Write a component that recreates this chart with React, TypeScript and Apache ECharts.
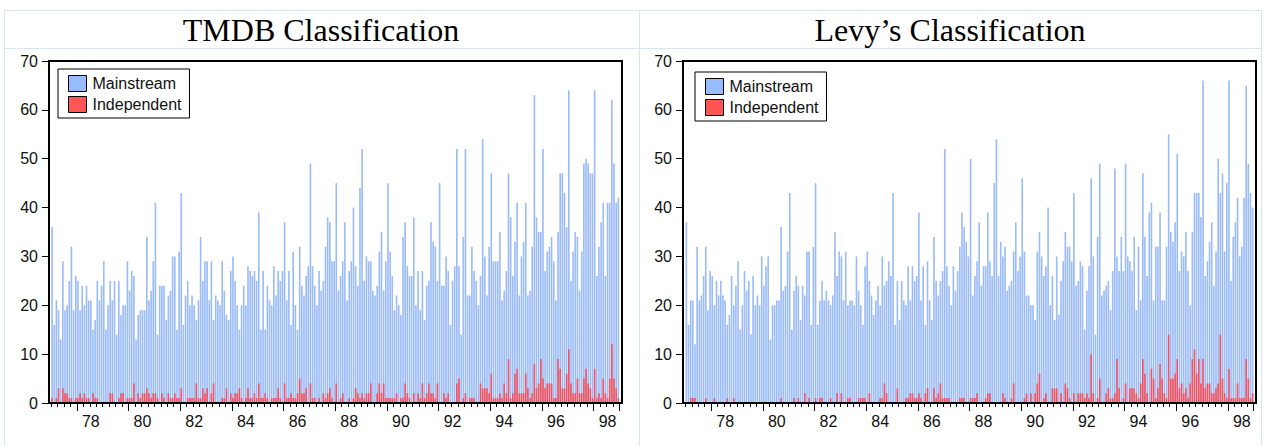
import React, { useEffect, useRef } from "react";
import * as echarts from "echarts";

// ---- categories: monthly, Jan 1977 .. Dec 1998 ----
const START_YEAR = 1977;
const END_YEAR = 1998;
const months: string[] = [];
for (let y = START_YEAR; y <= END_YEAR; y++) {
  for (let m = 1; m <= 12; m++) months.push(`${y}-${String(m).padStart(2, "0")}`);
}

// ---- TMDB classification ----
const tmdbMainstream = [
  36, 16, 21, 19, 13, 29, 19, 20, 25, 32, 19, 26,
  25, 19, 24, 20, 24, 21, 21, 15, 17, 25, 21, 24,
  29, 15, 20, 25, 21, 25, 14, 25, 18, 20, 20, 29,
  23, 27, 26, 13, 18, 19, 19, 19, 34, 21, 23, 29,
  41, 14, 24, 24, 24, 17, 22, 23, 30, 30, 15, 31,
  43, 16, 22, 25, 20, 22, 20, 17, 21, 34, 25, 29,
  29, 21, 29, 17, 22, 21, 20, 29, 23, 18, 17, 27,
  30, 25, 20, 15, 20, 24, 20, 28, 27, 26, 27, 25,
  39, 15, 27, 15, 24, 21, 20, 28, 22, 27, 25, 27,
  37, 21, 27, 16, 31, 20, 15, 32, 24, 22, 26, 28,
  49, 28, 24, 20, 27, 23, 25, 32, 38, 37, 29, 29,
  45, 23, 26, 29, 37, 21, 27, 29, 40, 28, 24, 44,
  52, 25, 30, 29, 29, 23, 22, 24, 31, 35, 23, 29,
  45, 31, 26, 19, 22, 20, 18, 34, 37, 28, 26, 26,
  38, 20, 27, 19, 27, 17, 24, 25, 37, 33, 32, 25,
  45, 24, 24, 30, 27, 16, 25, 28, 52, 28, 14, 34,
  52, 22, 22, 32, 27, 25, 20, 26, 54, 30, 22, 32,
  47, 29, 29, 29, 35, 21, 23, 27, 47, 38, 26, 33,
  41, 22, 30, 33, 41, 22, 23, 32, 63, 38, 35, 35,
  52, 27, 31, 32, 34, 29, 21, 35, 47, 47, 43, 36,
  64, 25, 31, 35, 34, 23, 31, 49, 50, 49, 47, 47,
  64, 26, 32, 37, 41, 26, 41, 41, 62, 49, 41, 42,
];
const tmdbIndependent = [
  1, 0, 1, 3, 0, 3, 2, 2, 1, 1, 0, 1,
  1, 2, 1, 2, 1, 1, 0, 2, 1, 1, 0, 0,
  0, 0, 0, 2, 2, 0, 0, 1, 2, 2, 0, 1,
  1, 1, 4, 0, 2, 1, 2, 2, 3, 2, 1, 2,
  2, 1, 0, 2, 1, 0, 2, 1, 1, 2, 1, 1,
  3, 0, 0, 1, 1, 1, 1, 4, 1, 1, 3, 2,
  3, 0, 2, 4, 0, 0, 0, 1, 1, 3, 0, 2,
  1, 2, 2, 3, 1, 0, 1, 3, 1, 1, 2, 1,
  4, 1, 1, 2, 1, 0, 1, 1, 1, 3, 1, 0,
  4, 1, 1, 2, 1, 1, 2, 5, 2, 2, 3, 0,
  4, 1, 1, 0, 1, 0, 2, 1, 2, 3, 1, 0,
  4, 0, 1, 2, 0, 0, 1, 0, 1, 3, 2, 1,
  2, 1, 2, 2, 4, 0, 0, 2, 4, 2, 4, 1,
  1, 1, 1, 1, 2, 0, 1, 1, 4, 2, 1, 0,
  2, 0, 2, 1, 4, 1, 2, 4, 2, 2, 1, 4,
  0, 0, 2, 1, 2, 0, 0, 0, 4, 5, 0, 1,
  2, 0, 1, 1, 1, 0, 0, 4, 3, 3, 3, 2,
  6, 1, 1, 1, 2, 1, 4, 2, 9, 1, 2, 6,
  7, 2, 2, 2, 6, 3, 1, 2, 8, 3, 4, 9,
  5, 3, 4, 4, 4, 1, 1, 9, 7, 3, 3, 6,
  11, 4, 2, 2, 5, 2, 2, 5, 7, 4, 3, 1,
  7, 1, 2, 1, 5, 2, 1, 5, 12, 5, 3, 1,
];

// ---- Levy's classification ----
const levyMainstream = [
  37, 16, 21, 21, 12, 32, 21, 22, 26, 32, 19, 27,
  26, 20, 25, 22, 25, 22, 21, 16, 18, 26, 20, 24,
  29, 15, 20, 27, 23, 25, 14, 26, 20, 22, 20, 30,
  24, 28, 30, 13, 20, 20, 21, 21, 36, 23, 24, 31,
  43, 15, 23, 26, 24, 17, 24, 22, 31, 31, 16, 32,
  45, 16, 21, 25, 21, 23, 21, 20, 22, 35, 26, 31,
  30, 21, 31, 20, 21, 21, 20, 30, 23, 20, 16, 28,
  31, 25, 22, 18, 21, 24, 20, 30, 24, 25, 29, 26,
  43, 16, 25, 17, 25, 21, 20, 28, 21, 28, 25, 26,
  39, 21, 28, 16, 29, 21, 17, 34, 25, 22, 25, 27,
  52, 28, 24, 20, 28, 23, 27, 32, 39, 36, 33, 30,
  50, 22, 26, 29, 37, 24, 28, 28, 39, 29, 26, 45,
  54, 26, 33, 30, 32, 23, 24, 25, 31, 37, 27, 30,
  46, 31, 22, 22, 20, 20, 17, 31, 35, 30, 26, 28,
  40, 20, 26, 17, 30, 18, 25, 29, 35, 32, 32, 29,
  43, 24, 25, 29, 28, 15, 23, 28, 46, 30, 14, 34,
  49, 22, 23, 24, 25, 19, 27, 48, 30, 27, 34, 27,
  49, 30, 29, 27, 34, 19, 32, 21, 47, 34, 26, 39,
  41, 21, 32, 32, 39, 21, 21, 32, 55, 35, 33, 37,
  51, 27, 31, 30, 35, 27, 20, 35, 43, 43, 43, 38,
  66, 26, 29, 33, 37, 24, 31, 50, 43, 47, 31, 45,
  66, 25, 34, 37, 42, 30, 32, 42, 65, 49, 43, 40,
];
const levyIndependent = [
  0, 0, 1, 1, 1, 0, 0, 0, 0, 1, 0, 0,
  0, 1, 0, 0, 0, 0, 0, 1, 0, 0, 1, 0,
  0, 0, 0, 0, 0, 0, 0, 0, 0, 0, 0, 0,
  0, 0, 0, 0, 0, 0, 0, 0, 1, 0, 0, 0,
  0, 0, 1, 0, 1, 0, 0, 2, 0, 1, 0, 0,
  1, 0, 1, 1, 0, 0, 0, 1, 0, 0, 2, 0,
  2, 0, 0, 1, 1, 0, 0, 0, 1, 1, 1, 1,
  0, 2, 0, 0, 0, 0, 1, 1, 4, 2, 0, 0,
  0, 0, 3, 0, 0, 0, 1, 1, 2, 2, 1, 1,
  2, 1, 0, 2, 3, 0, 0, 3, 1, 2, 4, 1,
  1, 1, 1, 0, 0, 0, 0, 1, 1, 1, 0, 0,
  1, 1, 1, 2, 0, 0, 0, 1, 2, 2, 0, 0,
  0, 0, 0, 2, 1, 0, 0, 1, 4, 0, 0, 0,
  0, 1, 2, 0, 2, 0, 2, 4, 6, 0, 1, 2,
  0, 0, 3, 3, 3, 0, 2, 0, 4, 3, 1, 0,
  2, 0, 2, 2, 2, 1, 2, 1, 10, 2, 0, 1,
  5, 0, 0, 2, 3, 1, 1, 2, 9, 3, 0, 1,
  4, 0, 3, 3, 3, 2, 1, 4, 9, 6, 2, 0,
  7, 5, 1, 3, 8, 5, 2, 1, 14, 5, 5, 6,
  9, 3, 4, 2, 3, 1, 4, 9, 11, 6, 9, 4,
  9, 3, 4, 4, 2, 2, 3, 4, 14, 5, 2, 1,
  7, 1, 1, 1, 4, 1, 1, 1, 9, 5, 1, 2,
];

const seriesNames = ["Mainstream", "Independent"];
const panelTitles = ["TMDB Classification", "Levy\u2019s Classification"];
const yTicks = { min: 0, max: 70, interval: 10 };

const BLUE = "#9BBCF8";
const RED = "#F25560";
const SANS = "'Liberation Sans', Arial, sans-serif";
const SERIF = "'Liberation Serif', 'Times New Roman', serif";

export default function App() {
  const ref = useRef<HTMLDivElement>(null);

  useEffect(() => {
    document.body.style.margin = "0";
    if (!ref.current) return;
    const chart = echarts.init(ref.current, null, { renderer: "svg" });

    const panels = [
      { title: panelTitles[0], main: tmdbMainstream, indep: tmdbIndependent, gridLeft: 51, frameX: 49, legendLeft: 58, legendTop: 69, titleX: 321 },
      { title: panelTitles[1], main: levyMainstream, indep: levyIndependent, gridLeft: 685.3, frameX: 683, legendLeft: 695, legendTop: 72, titleX: 950 },
    ];
    const GRID_TOP = 61;
    const GRID_H = 342;
    const GRID_W = 568.4;

    const grid: any[] = [];
    const xAxis: any[] = [];
    const yAxis: any[] = [];
    const series: any[] = [];
    const legend: any[] = [];
    const graphic: any[] = [];

    // table cell lines
    const lineColor = "#D8E5F2";
    [10.5, 48.5].forEach((y) =>
      graphic.push({ type: "line", shape: { x1: 4, y1: y, x2: 1262, y2: y }, style: { stroke: lineColor, lineWidth: 1 }, silent: true })
    );
    [4.5, 639.5, 1261.5].forEach((x) =>
      graphic.push({ type: "line", shape: { x1: x, y1: 10, x2: x, y2: 446 }, style: { stroke: lineColor, lineWidth: 1 }, silent: true })
    );

    panels.forEach((p, k) => {
      grid.push({ left: p.gridLeft, top: GRID_TOP, width: GRID_W, height: GRID_H, containLabel: false });
      // minor (quarterly) ticks
      xAxis.push({
        type: "category", gridIndex: k, position: "bottom", data: months, boundaryGap: true,
        axisLine: { show: false },
        axisTick: { show: true, interval: (i: number) => i % 3 === 0, length: 4, lineStyle: { color: "#000", width: 1 } },
        axisLabel: { show: false },
        splitLine: { show: false },
      });
      // major (biennial) ticks + year labels
      xAxis.push({
        type: "category", gridIndex: k, position: "bottom", data: months, boundaryGap: true,
        axisLine: { show: false },
        axisTick: { show: true, interval: (i: number) => i % 24 === 12, length: 8, lineStyle: { color: "#000", width: 1 } },
        axisLabel: {
          show: true, interval: (i: number) => i % 24 === 18,
          formatter: (v: string) => v.slice(2, 4),
          fontSize: 16, fontFamily: SANS, color: "#111", margin: 10,
        },
        splitLine: { show: false },
      });
      yAxis.push({
        type: "value", gridIndex: k, position: "left", min: yTicks.min, max: yTicks.max, interval: yTicks.interval,
        offset: p.gridLeft - p.frameX,
        axisLine: { show: false },
        axisTick: { show: true, length: 7, lineStyle: { color: "#000", width: 1 } },
        axisLabel: { fontSize: 16, fontFamily: SANS, color: "#111", margin: 11 },
        splitLine: { show: false },
      });
      series.push({
        type: "bar", name: seriesNames[0], xAxisIndex: 2 * k, yAxisIndex: k,
        data: p.main, barWidth: "76%", barGap: "-100%", itemStyle: { color: BLUE }, silent: true,
      });
      series.push({
        type: "bar", name: seriesNames[1], xAxisIndex: 2 * k, yAxisIndex: k,
        data: p.indep, barWidth: "76%", barGap: "-100%", itemStyle: { color: RED }, silent: true,
      });
      legend.push({
        left: p.legendLeft, top: p.legendTop, orient: "vertical",
        selectedMode: false,
        backgroundColor: "#fff",
        borderColor: "#000", borderWidth: 1,
        padding: [6, 8, 5, 10],
        itemWidth: 18, itemHeight: 16, itemGap: 4,
        icon: "rect",
        itemStyle: { borderColor: "#000", borderWidth: 1 },
        textStyle: { fontSize: 16, fontFamily: SANS, color: "#111", padding: [0, 0, 0, 1] },
        data: [
          { name: seriesNames[0], itemStyle: { color: "#99BBFF" } },
          { name: seriesNames[1], itemStyle: { color: "#FF5555" } },
        ],
      });
      // plot frame
      graphic.push({
        type: "rect", z: 100, silent: true,
        shape: { x: p.frameX, y: GRID_TOP, width: 573, height: GRID_H },
        style: { fill: "none", stroke: "#000", lineWidth: 2 },
      });
      // panel title
      graphic.push({
        type: "text", x: p.titleX, y: 30, silent: true,
        style: { text: p.title, fontSize: 32, fontFamily: SERIF, fill: "#000", align: "center", verticalAlign: "middle" },
      });
    });

    chart.setOption({
      animation: false,
      backgroundColor: "#fff",
      grid, xAxis, yAxis, series, legend, graphic,
    });

    return () => chart.dispose();
  }, []);

  return <div ref={ref} style={{ width: 1265, height: 446 }} />;
}
